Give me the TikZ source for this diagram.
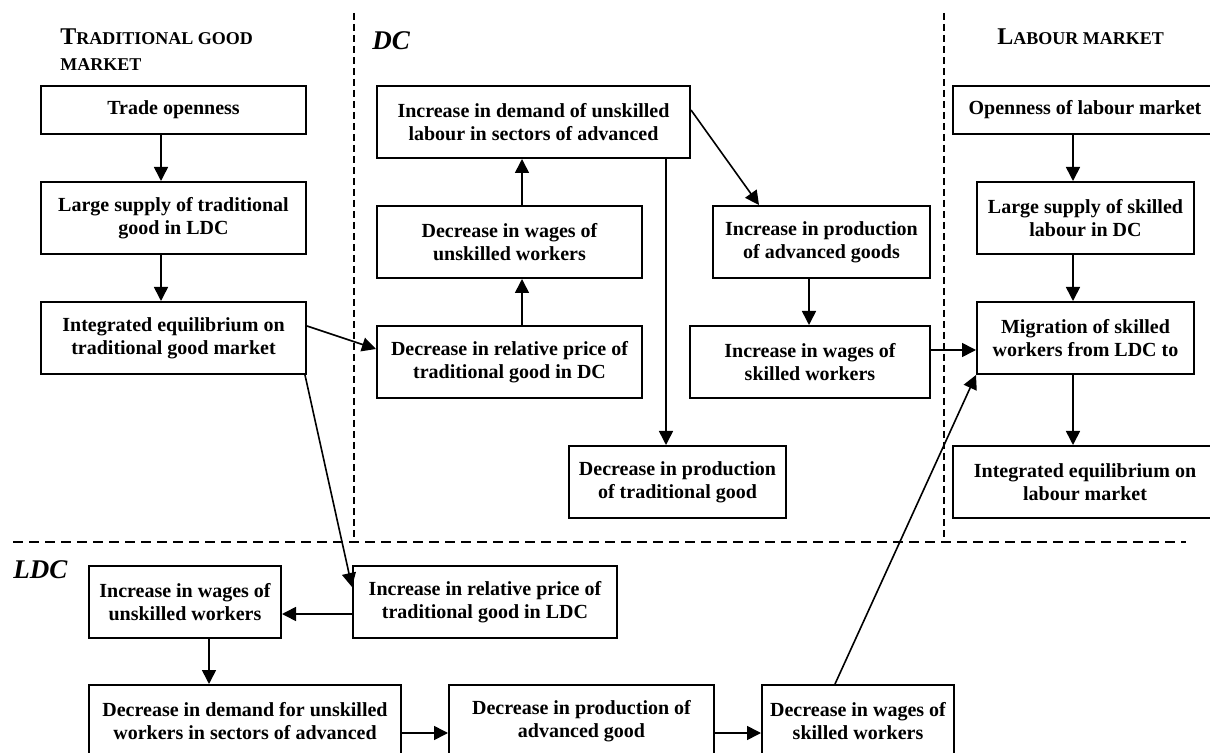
\documentclass[tikz,border=0pt]{standalone}
\usepackage{fontspec}
\setmainfont{Liberation Serif}
\usetikzlibrary{calc,arrows.meta}

\begin{document}
\begin{tikzpicture}[x=0.5pt,y=-0.5pt,
  box/.style={draw, line width=1pt, minimum width=#1, minimum height=36pt, inner sep=0pt, align=center, font=\bfseries\fontsize{10}{11.5}\selectfont},
  box/.default=132.5pt,
  arr/.style={line width=0.8pt, -{Triangle[length=7pt,width=7pt]}},
  sep/.style={line width=0.6pt, dash pattern=on 3.5pt off 2pt},
  head/.style={font=\bfseries\fontsize{9}{13}\selectfont, align=left, inner sep=0pt, anchor=base west},
  zone/.style={font=\bfseries\itshape\fontsize{13.5}{16}\selectfont, inner sep=0pt, anchor=base west}]
\useasboundingbox (0,0) rectangle (1210,753);

\node[head] (tgm) at (60,71) {{\fontsize{12}{13}\selectfont T}RADITIONAL GOOD\\MARKET};
\node[zone] (dc) at (372,50) {DC};
\node[head] (lm) at (997,45) {{\fontsize{12}{13}\selectfont L}ABOUR MARKET};
\node[zone] (ldc) at (13,578) {LDC};

\node[box, minimum height=24pt] (trade) at (173.5,110) {Trade openness};
\node[box] (supply) at (173.5,218) {Large supply of traditional\\good in LDC};
\node[box] (integ) at (173.5,338) {Integrated equilibrium on\\traditional good market};

\node[box=156.5pt] (demDC) at (533.5,122) {Increase in demand of unskilled\\labour in sectors of advanced};
\node[box] (wagesDC) at (509.5,242) {Decrease in wages of\\unskilled workers};
\node[box] (priceDC) at (509.5,362) {Decrease in relative price of\\traditional good in DC};
\node[box=108.5pt] (prodAdv) at (821.5,242) {Increase in production\\of advanced goods};
\node[box=120pt] (wagesSk) at (810,362) {Increase in wages of\\skilled workers};
\node[box=108.5pt] (prodTrad) at (677.5,482) {Decrease in production\\of traditional good};

\node[box, minimum height=24pt] (openLab) at (1085,110) {Openness of labour market};
\node[box=108.5pt] (supplySk) at (1085.5,218) {Large supply of skilled\\labour in DC};
\node[box=108.5pt] (migr) at (1085.5,338) {Migration of skilled\\workers from LDC to};
\node[box] (eqLab) at (1085,482) {Integrated equilibrium on\\labour market};

\node[box=96pt] (wagesUn) at (185,602) {Increase in wages of\\unskilled workers};
\node[box=132pt] (priceLDC) at (485,602) {Increase in relative price of\\traditional good in LDC};
\node[box=156pt] (demLDC) at (245,721) {Decrease in demand for unskilled\\workers in sectors of advanced};
\node[box] (prodAdvLDC) at (581.5,721) {Decrease in production of\\advanced good};
\node[box=96pt] (wagesSkLDC) at (858,721) {Decrease in wages of\\skilled workers};

\draw[sep] (354,13) -- (354,542);
\draw[sep] (944,13) -- (944,542);
\draw[sep, dash pattern=on 5pt off 3pt] (13,542) -- (1186,542);

\draw[arr] ($(trade.south)+(-12.5,0)$) -- ($(supply.north)+(-12.5,0)$);
\draw[arr] ($(supply.south)+(-12.5,0)$) -- ($(integ.north)+(-12.5,0)$);
\draw[arr] ($(integ.north east)+(0,25)$) -- ($(priceDC.north west)+(0,24)$);
\draw[arr] ($(priceDC.north)+(12.5,0)$) -- ($(wagesDC.south)+(12.5,0)$);
\draw[arr] ($(wagesDC.north)+(12.5,0)$) -- ($(demDC.south)+(-11.5,0)$);
\draw[arr] ($(demDC.north east)+(0,25)$) -- ($(prodAdv.north west)+(47,0)$);
\draw[arr] ($(demDC.south)+(132.5,0)$) -- ($(prodTrad.north)+(-11.5,0)$);
\draw[arr] ($(prodAdv.south)+(-12.5,0)$) -- ($(wagesSk.north)+(-1,0)$);
\draw[arr] ($(wagesSk.east)+(0,-12)$) -- ($(migr.west)+(0,12)$);
\draw[arr] ($(openLab.south)+(-12,0)$) -- ($(supplySk.north)+(-12.5,0)$);
\draw[arr] ($(supplySk.south)+(-12.5,0)$) -- ($(migr.north)+(-12.5,0)$);
\draw[arr] ($(migr.south)+(-12.5,0)$) -- ($(eqLab.north)+(-12,0)$);
\draw[arr] ($(integ.south east)+(-2,0)$) -- ($(priceLDC.north west)+(0,22)$);
\draw[arr] ($(priceLDC.west)+(0,12)$) -- ($(wagesUn.east)+(0,12)$);
\draw[arr] ($(wagesUn.south)+(24,0)$) -- ($(demLDC.north)+(-36,0)$);
\draw[arr] ($(demLDC.east)+(0,12)$) -- ($(prodAdvLDC.west)+(0,12)$);
\draw[arr] ($(prodAdvLDC.east)+(0,12)$) -- ($(wagesSkLDC.west)+(0,12)$);
\draw[arr] ($(wagesSkLDC.north)+(-23,0)$) -- (migr.south west);
\end{tikzpicture}
\end{document}
